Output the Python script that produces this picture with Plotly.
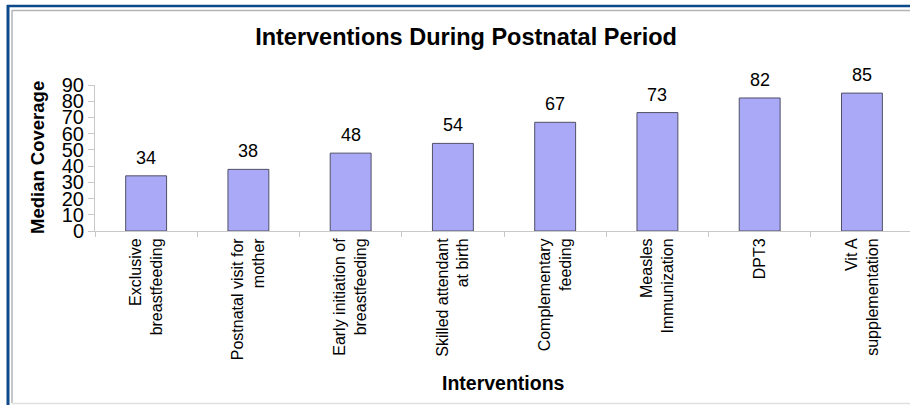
import plotly.graph_objects as go

categories = ["Exclusive<br>breastfeeding", "Postnatal visit for<br>mother",
              "Early initiation of<br>breastfeeding", "Skilled attendant<br>at birth",
              "Complementary<br>feeding", "Measles<br>Immunization", "DPT3",
              "Vit A<br>supplementation"]
values = [34, 38, 48, 54, 67, 73, 82, 85]
y_ticks = [0, 10, 20, 30, 40, 50, 60, 70, 80, 90]

W, H = 910, 405
L, R, T, B = 95, 0, 85, 174
PW, PH = W - L - R, H - T - B

def px(xp):
    return (xp - L) / PW

def py(yp):
    return (H - B - yp) / PH

FONT = "Liberation Sans, Arial, sans-serif"

fig = go.Figure()
fig.add_trace(go.Bar(
    x=categories, y=values, width=0.4,
    marker=dict(color="#a9a9f7", line=dict(color="#505066", width=1)),
    hoverinfo="x+y",
))

annotations = []
for c, v in zip(categories, values):
    annotations.append(dict(x=c, y=v, xref="x", yref="y", text=str(v), showarrow=False,
                            yanchor="bottom", yshift=6, font=dict(size=18, color="black", family=FONT)))
annotations.append(dict(x=px(37), y=py(157), xref="paper", yref="paper", text="<b>Median Coverage</b>",
                        textangle=-90, showarrow=False, xanchor="center", yanchor="middle",
                        font=dict(size=18.5, color="black", family=FONT)))
annotations.append(dict(x=px(503), y=py(383), xref="paper", yref="paper", text="<b>Interventions</b>",
                        showarrow=False, xanchor="center", yanchor="middle",
                        font=dict(size=19.5, color="black", family=FONT)))

blue = "#0d4a8a"
gray = "#b4b4b4"
shapes = [
    dict(type="line", xref="paper", yref="paper", x0=px(8), x1=px(8), y0=py(5), y1=py(410),
         line=dict(color=blue, width=3)),
    dict(type="line", xref="paper", yref="paper", x0=px(7), x1=px(915), y0=py(6), y1=py(6),
         line=dict(color=blue, width=2.5)),
    dict(type="line", xref="paper", yref="paper", x0=px(12), x1=px(12), y0=py(10), y1=py(403),
         line=dict(color=gray, width=1.5)),
    dict(type="line", xref="paper", yref="paper", x0=px(12), x1=px(915), y0=py(10.5), y1=py(10.5),
         line=dict(color=gray, width=1.5)),
    dict(type="line", xref="paper", yref="paper", x0=px(12), x1=px(915), y0=py(403.5), y1=py(403.5),
         line=dict(color="#e0e0e0", width=1.5)),
]

fig.update_layout(
    width=W, height=H,
    margin=dict(l=L, r=R, t=T, b=B, autoexpand=False),
    paper_bgcolor="white", plot_bgcolor="white",
    showlegend=False,
    font=dict(family=FONT, color="black"),
    title=dict(text="<b>Interventions During Postnatal Period</b>", x=466 / W, y=1 - 37 / H,
               xanchor="center", yanchor="middle", xref="container", yref="container",
               font=dict(size=23.5, color="black", family=FONT)),
    xaxis=dict(range=[-0.5, 7.47], tickangle=-90, tickfont=dict(size=16, family=FONT),
               showline=True, linecolor="#c8c8c8", linewidth=1, ticks="outside",
               tickson="boundaries", ticklen=5, tickcolor="#c8c8c8", showgrid=False),
    yaxis=dict(range=[0, 90], tickvals=y_ticks, tickfont=dict(size=20, family=FONT),
               showline=True, linecolor="#c8c8c8", linewidth=1, ticks="outside",
               ticklen=6, tickcolor="#c8c8c8", showgrid=False, zeroline=False),
    annotations=annotations,
    shapes=shapes,
)

fig.write_html("out.html")
